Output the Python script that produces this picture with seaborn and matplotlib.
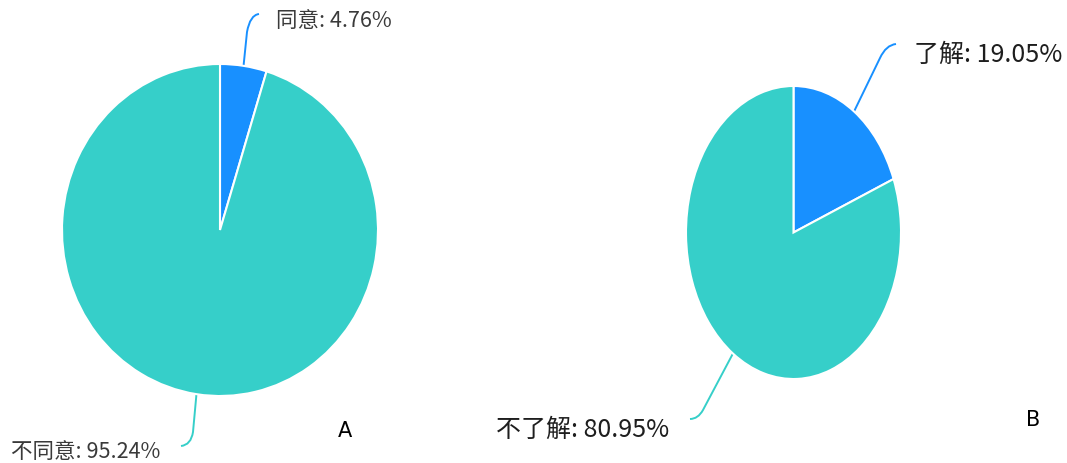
import numpy as np
import matplotlib
matplotlib.use("Agg")
import matplotlib.pyplot as plt
from matplotlib.path import Path
from matplotlib.patches import PathPatch
import seaborn as sns

# ---- data ----
labels_a = ["同意", "不同意"]
values_a = [4.76, 95.24]
labels_b = ["了解", "不了解"]
values_b = [19.05, 80.95]
panel_names = ["A", "B"]

sns.set_theme(style="white")
plt.rcParams["font.family"] = ["Noto Sans CJK SC", "DejaVu Sans"]

colors = ["#1890FF", "#36CFC9"]
W, H = 1067, 463
fig = plt.figure(figsize=(W / 100, H / 100), dpi=100)
fig.patch.set_facecolor("white")

# full-figure overlay axes in pixel coordinates
ov = fig.add_axes([0, 0, 1, 1])
ov.set_xlim(0, W)
ov.set_ylim(H, 0)
ov.axis("off")

def pie_axes(x0, x1, y0, y1):
    ax = fig.add_axes([x0 / W, (H - y1) / H, (x1 - x0) / W, (y1 - y0) / H])
    return ax

def draw_pie(ax, values):
    ax.pie(values, colors=colors, startangle=90, counterclock=False,
           radius=1, wedgeprops=dict(edgecolor="white", linewidth=1.5))
    ax.set_aspect("auto")
    ax.set_xlim(-1, 1)
    ax.set_ylim(-1, 1)
    ax.axis("off")

def mid_points(values, cx, cy, rx, ry):
    pts = []
    start = 90.0
    for v in values:
        span = v / sum(values) * 360
        mid = np.deg2rad(start - span / 2)
        pts.append((cx + rx * np.cos(mid), cy - ry * np.sin(mid)))
        start -= span
    return pts

def leader(p0, p1, c, p2, color):
    path = Path([p0, p1, c, p2], [Path.MOVETO, Path.LINETO, Path.CURVE3, Path.CURVE3])
    ov.add_patch(PathPatch(path, facecolor="none", edgecolor=color, lw=1.4))

# Pie A
axA = pie_axes(62, 378, 64, 396)
draw_pie(axA, values_a)
ptsA = mid_points(values_a, 220, 230, 158, 166)
leader(ptsA[0], (247, 32), (250, 15), (259, 14), colors[0])
leader(ptsA[1], (193, 432), (191, 445), (181, 446), colors[1])
ov.text(276, 21, f"{labels_a[0]}: {values_a[0]:.2f}%", fontsize=15.5, color="#3a3a3a",
        ha="left", va="center")
ov.text(11, 452, f"{labels_a[1]}: {values_a[1]:.2f}%", fontsize=15.5, color="#3a3a3a",
        ha="left", va="center")
ov.text(345, 431, panel_names[0], fontsize=15, color="black", ha="center", va="center",
        family="DejaVu Sans")

# Pie B
axB = pie_axes(686, 901, 86, 379)
draw_pie(axB, values_b)
ptsB = mid_points(values_b, 793.5, 232.5, 107.5, 146.5)
leader(ptsB[0], (880, 58), (886, 45), (896, 44), colors[0])
leader(ptsB[1], (703, 410), (698, 419), (690, 419), colors[1])
ov.text(914, 55, f"{labels_b[0]}: {values_b[0]:.2f}%", fontsize=18, color="#1e1e1e",
        ha="left", va="center")
ov.text(496, 430, f"{labels_b[1]}: {values_b[1]:.2f}%", fontsize=18, color="#1e1e1e",
        ha="left", va="center")
ov.text(1033, 420, panel_names[1], fontsize=15, color="black", ha="center", va="center",
        family="DejaVu Sans")

fig.savefig("out.png", dpi=100, facecolor="white")
